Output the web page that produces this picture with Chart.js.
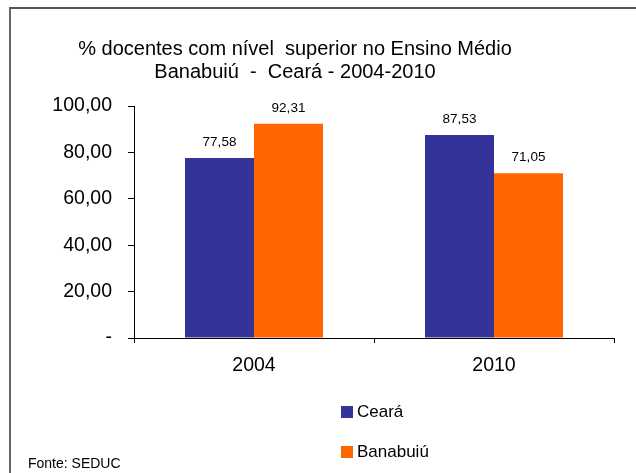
<!DOCTYPE html>
<html>
<head>
<meta charset="utf-8">
<script src="https://cdn.jsdelivr.net/npm/chart.js@4"></script>
<style>
  html, body { margin: 0; padding: 0; background: #fff; }
  #wrap { position: relative; width: 636px; height: 473px; overflow: hidden; }
  #frame { position: absolute; left: 9px; top: 7px; width: 640px; height: 480px;
           border-left: 2px solid #666; border-top: 2px solid #555; box-sizing: border-box; }
  canvas { position: absolute; left: 0; top: 0; }
</style>
</head>
<body>
<div id="wrap">
  <div id="frame"></div>
  <canvas id="c" width="636" height="473"></canvas>
</div>
<script>
const categories = ['2004', '2010'];
const cearaValues = [77.58, 87.53];
const banabuiuValues = [92.31, 71.05];
const seriesNames = ['Ceará', 'Banabuiú'];
const titleLines = ['% docentes com nível  superior no Ensino Médio', 'Banabuiú  -  Ceará - 2004-2010'];
const sourceText = 'Fonte: SEDUC';

const FONT = '"Liberation Sans", Arial, sans-serif';
const fmt = v => v.toFixed(2).replace('.', ',');

const overlay = {
  id: 'overlay',
  afterDatasetsDraw(chart) {
    const ctx = chart.ctx;
    ctx.save();
    ctx.fillStyle = '#000';
    ctx.font = '13.5px ' + FONT;
    ctx.textAlign = 'center';
    ctx.textBaseline = 'middle';
    chart.data.datasets.forEach((ds, di) => {
      const meta = chart.getDatasetMeta(di);
      meta.data.forEach((el, i) => {
        ctx.fillText(fmt(ds.data[i]), el.x, el.y - 16);
      });
    });
    ctx.restore();
  },
  afterDraw(chart) {
    const ctx = chart.ctx;
    ctx.save();
    ctx.fillStyle = '#000';
    ctx.textAlign = 'center';
    ctx.textBaseline = 'alphabetic';
    ctx.font = '20px ' + FONT;
    ctx.fillText(titleLines[0], 295, 55);
    ctx.fillText(titleLines[1], 295, 78);
    // legend
    ctx.textAlign = 'left';
    ctx.textBaseline = 'middle';
    ctx.font = '17px ' + FONT;
    chart.data.datasets.forEach((ds, di) => {
      const y = 412 + di * 40;
      ctx.fillStyle = ds.backgroundColor;
      ctx.fillRect(341, y - 6, 12, 12);
      ctx.fillStyle = '#000';
      ctx.fillText(ds.label, 357, y);
    });
    // source
    ctx.textBaseline = 'alphabetic';
    ctx.font = '14px ' + FONT;
    ctx.fillText(sourceText, 28, 468);
    ctx.restore();
  }
};

new Chart(document.getElementById('c'), {
  type: 'bar',
  data: {
    labels: categories,
    datasets: [
      { label: seriesNames[0], data: cearaValues, backgroundColor: '#333399' },
      { label: seriesNames[1], data: banabuiuValues, backgroundColor: '#FF6600' }
    ]
  },
  options: {
    responsive: false,
    animation: false,
    devicePixelRatio: 1,
    layout: { padding: { left: 0, top: 106, right: 22, bottom: 0 } },
    plugins: { legend: { display: false }, title: { display: false }, tooltip: { enabled: false } },
    datasets: { bar: { categoryPercentage: 0.575, barPercentage: 1 } },
    scales: {
      x: {
        afterFit(s) { s.height = 135; },
        grid: { offset: true, drawOnChartArea: false, drawTicks: true, tickLength: 5, color: '#000' },
        border: { display: true, color: '#000', width: 1 },
        ticks: { color: '#000', font: { family: FONT, size: 19.5 }, padding: 11 }
      },
      y: {
        min: 0, max: 100,
        afterFit(s) { s.width = 134; },
        grid: { drawOnChartArea: false, drawTicks: true, tickLength: 6, color: '#000' },
        border: { display: true, color: '#000', width: 1 },
        ticks: {
          stepSize: 20, color: '#000', padding: 16,
          font: { family: FONT, size: 19.5 },
          callback: v => v === 0 ? '-' : fmt(v)
        }
      }
    }
  },
  plugins: [overlay]
});
</script>
</body>
</html>
